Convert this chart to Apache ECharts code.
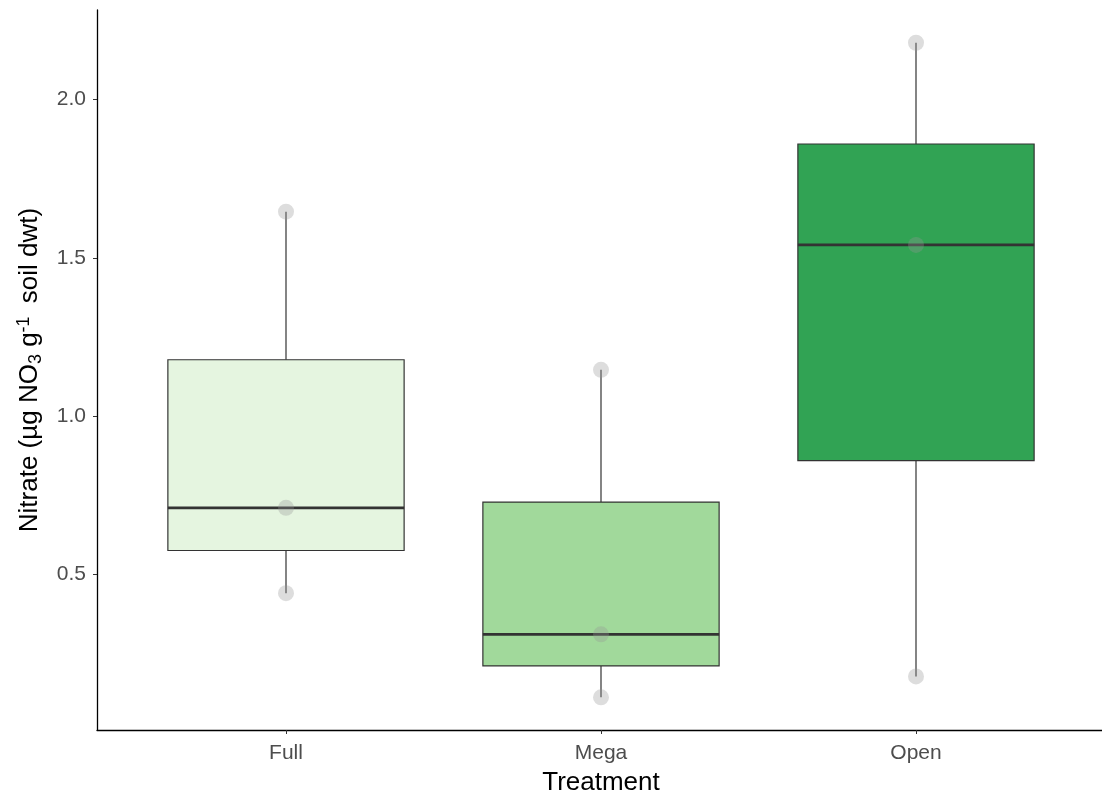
<!DOCTYPE html>
<html><head><meta charset="utf-8">
<script src="https://cdn.jsdelivr.net/npm/echarts@6/dist/echarts.min.js"></script>
<style>html,body{margin:0;padding:0;background:#fff;overflow:hidden}#c{width:1102px;height:796px}</style>
</head><body><div id="c"></div>
<script>
var categories = ['Full', 'Mega', 'Open'];
var whiskerLow = [0.44, 0.111, 0.177];
var q1 = [0.575, 0.21, 0.859];
var median = [0.71, 0.31, 1.541];
var q3 = [1.178, 0.728, 1.86];
var whiskerHigh = [1.646, 1.146, 2.18];
var boxColors = ['#e5f5e0', '#a1d99b', '#31a354'];
var pointsFull = [1.646, 0.71, 0.44];
var pointsMega = [1.146, 0.31, 0.111];
var pointsOpen = [2.18, 1.541, 0.177];
var yTicks = [0.5, 1.0, 1.5, 2.0];
var yMin = 0.0076, yMax = 2.2835;

var boxData = categories.map(function (c, i) {
  return [i + 1, whiskerLow[i], q1[i], median[i], q3[i], whiskerHigh[i], i];
});
var allPoints = [pointsFull, pointsMega, pointsOpen];
var pointData = [];
allPoints.forEach(function (arr, i) { arr.forEach(function (v) { pointData.push([i + 1, v]); }); });

var F = 'Liberation Sans';
var chart = echarts.init(document.getElementById('c'), null, {renderer: 'canvas'});
chart.setOption({
  animation: false,
  grid: {left: 97, right: -3, top: 10, bottom: 66, outerBoundsMode: 'none', containLabel: false},
  xAxis: {
    type: 'value', min: 0.4, max: 3.6,
    name: 'Treatment', nameLocation: 'middle', nameGap: 40,
    nameTextStyle: {fontSize: 26, color: '#000', fontFamily: F},
    splitLine: {show: false},
    axisLine: {show: true, lineStyle: {color: '#000', width: 1.3}},
    axisTick: {show: true, length: 4, lineStyle: {color: '#333'}, customValues: [1, 2, 3]},
    axisLabel: {customValues: [1, 2, 3], fontSize: 21, color: '#4d4d4d', fontFamily: F, margin: 13,
      formatter: function (v) { return categories[Math.round(v) - 1] || ''; }}
  },
  yAxis: {
    type: 'value', min: yMin, max: yMax,
    name: '{n|Nitrate (µg NO}{sub|3}{n| g}{sup|-1}{n| soil dwt)}',
    nameLocation: 'middle', nameGap: 52, nameRotate: 90,
    nameTextStyle: {fontSize: 26, color: '#000', fontFamily: F,
      rich: {
        n: {fontSize: 26, color: '#000', fontFamily: F, verticalAlign: 'middle'},
        sub: {fontSize: 18, color: '#000', fontFamily: F, verticalAlign: 'bottom', padding: [12, 0, 0, 0]},
        sup: {fontSize: 18, color: '#000', fontFamily: F, verticalAlign: 'top', padding: [0, 6, 12, 0]}
      }},
    splitLine: {show: false},
    axisLine: {show: true, lineStyle: {color: '#000', width: 1.3}},
    axisTick: {show: true, length: 4, lineStyle: {color: '#333'}, customValues: yTicks},
    axisLabel: {customValues: yTicks, fontSize: 21, color: '#4d4d4d', fontFamily: F, margin: 11,
      formatter: function (v) { return v.toFixed(1); }}
  },
  series: [{
    type: 'custom',
    data: boxData,
    renderItem: function (params, api) {
      var x = api.value(0);
      var half = api.size([0.75, 0])[0] / 2;
      var pLow = api.coord([x, api.value(1)]);
      var pQ1 = api.coord([x, api.value(2)]);
      var pMed = api.coord([x, api.value(3)]);
      var pQ3 = api.coord([x, api.value(4)]);
      var pHigh = api.coord([x, api.value(5)]);
      var col = boxColors[api.value(6)];
      var ls = {stroke: '#333', lineWidth: 1.2};
      return {type: 'group', children: [
        {type: 'line', shape: {x1: pLow[0], y1: pLow[1], x2: pQ1[0], y2: pQ1[1]}, style: ls},
        {type: 'line', shape: {x1: pQ3[0], y1: pQ3[1], x2: pHigh[0], y2: pHigh[1]}, style: ls},
        {type: 'rect', shape: {x: pQ3[0] - half, y: pQ3[1], width: half * 2, height: pQ1[1] - pQ3[1]},
          style: {fill: col, stroke: '#333', lineWidth: 1.2}},
        {type: 'line', shape: {x1: pMed[0] - half, y1: pMed[1], x2: pMed[0] + half, y2: pMed[1]},
          style: {stroke: '#333', lineWidth: 2.8}}
      ]};
    },
    z: 2
  }, {
    type: 'scatter',
    data: pointData,
    symbolSize: 16,
    itemStyle: {color: 'rgba(150,150,150,0.4)'},
    z: 3
  }]
});
</script></body></html>
